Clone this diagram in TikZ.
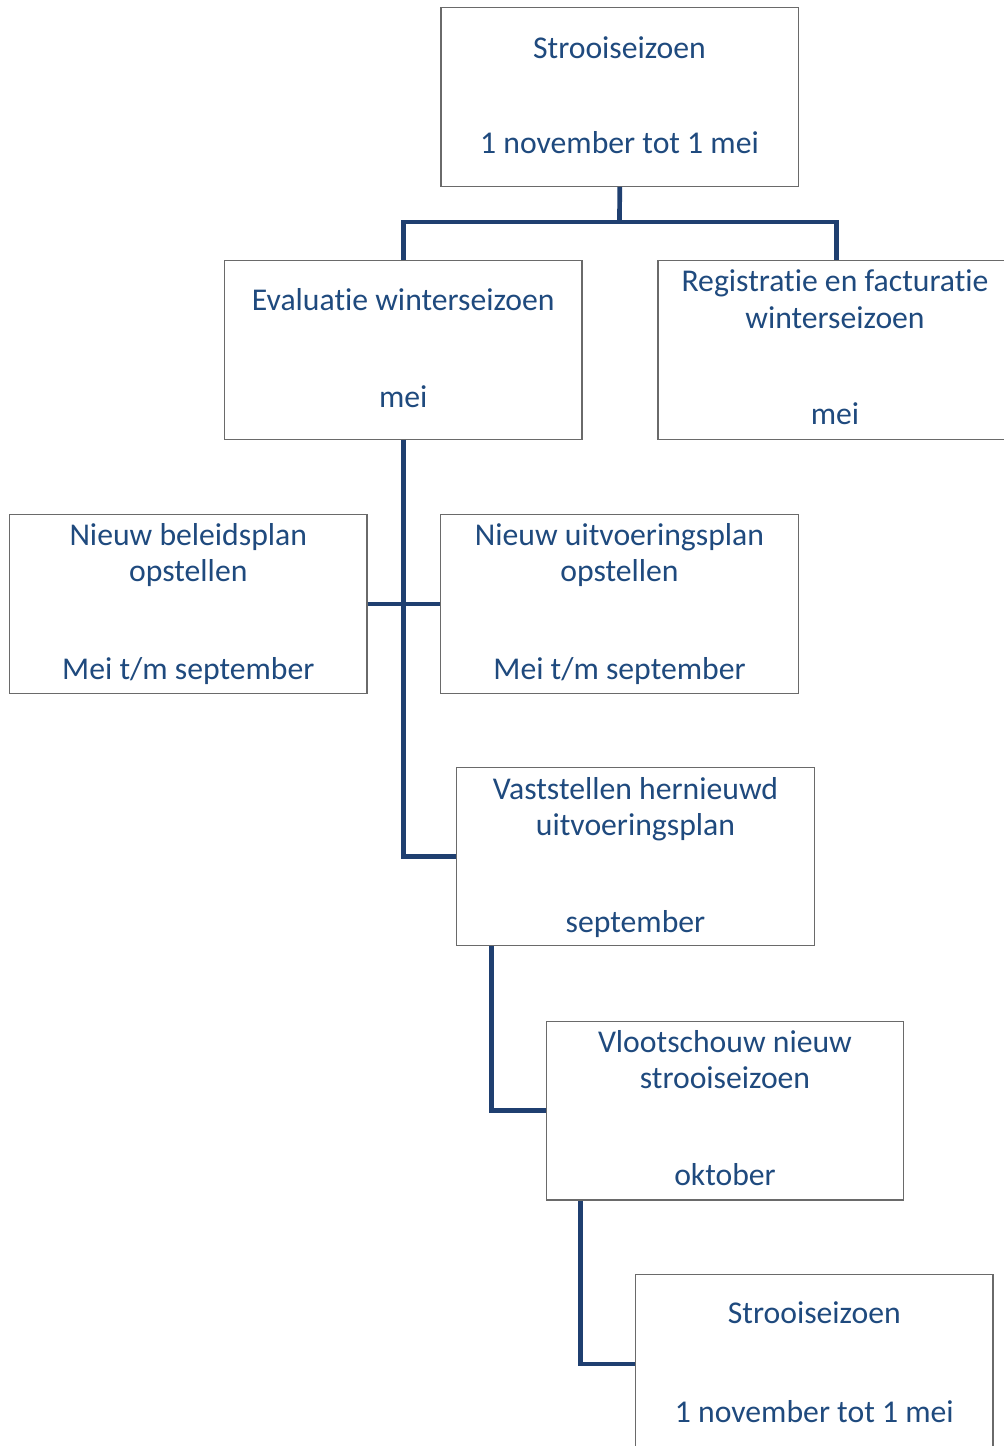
\documentclass[tikz,border=0pt]{standalone}
\usepackage{fontspec}
\setmainfont{Carlito}[Ligatures={NoCommon}]
\usetikzlibrary{calc}
\definecolor{conncol}{HTML}{1F3F70}
\definecolor{txtcol}{HTML}{1F4A7E}
\definecolor{boxcol}{HTML}{6A6A6A}
\begin{document}
\begin{tikzpicture}[x=1pt,y=1pt,
  box/.style={draw=boxcol,line width=1.2pt,fill=white,minimum width=357.5pt,minimum height=178.5pt,inner sep=0pt},
  txt/.style={anchor=base,inner sep=0pt,text=txtcol,font=\fontsize{31.7}{36}\selectfont},
  conn/.style={draw=conncol,line width=4.7pt}]
\useasboundingbox (0,0) rectangle (1004,-1446);
\fill[white] (0,0) rectangle (1004,-1446);
% boxes
\node[box] (b1) at (619.75,-97) {};
\node[box] (b2) at (403.3,-349.9) {};
\node[box] (b3) at (836.75,-349.9) {};
\node[box] (b4) at (188.3,-603.9) {};
\node[box] (b5) at (619.5,-603.9) {};
\node[box] (b6) at (635.5,-856.5) {};
\node[box] (b7) at (725,-1110.8) {};
\node[box] (b8) at (814.3,-1364) {};
% connectors
\coordinate (j1) at (619.5,-222);
\draw[conn] (b1.south) -- (j1);
\draw[conn] (b2.north) |- (j1) -| (b3.north);
\draw[conn] (b2.south) |- (b6.west);
\draw[conn] (b4.east) -- (b5.west);
\draw[conn] ($(b6.south west)+(35.5,0)$) |- (b7.west);
\draw[conn] ($(b7.south west)+(34.5,0)$) |- (b8.west);
% texts
\node[txt] (t1a) at (619.5,-58.3) {Strooiseizoen};
\node[txt] (t1b) at (619.5,-153) {1 november tot 1 mei};
\node[txt] (t2a) at (403.3,-310) {Evaluatie winterseizoen};
\node[txt] (t2b) at (403.3,-407.3) {mei};
\node[txt] (t3a) at (835,-291.7) {Registratie en facturatie};
\node[txt] (t3b) at (835,-328.3) {winterseizoen};
\node[txt] (t3c) at (835,-424) {mei};
\node[txt] (t4a) at (188.3,-545.7) {Nieuw beleidsplan};
\node[txt] (t4b) at (188.3,-581) {opstellen};
\node[txt] (t4c) at (188.3,-679) {Mei t/m september};
\node[txt] (t5a) at (619.5,-545.7) {Nieuw uitvoeringsplan};
\node[txt] (t5b) at (619.5,-581) {opstellen};
\node[txt] (t5c) at (619.5,-679) {Mei t/m september};
\node[txt] (t6a) at (635.5,-799.3) {Vaststellen hernieuwd};
\node[txt] (t6b) at (635.5,-835) {uitvoeringsplan};
\node[txt] (t6c) at (635.5,-932.7) {september};
\node[txt] (t7a) at (725,-1052.7) {Vlootschouw nieuw};
\node[txt] (t7b) at (725,-1088.3) {strooiseizoen};
\node[txt] (t7c) at (725,-1185.7) {oktober};
\node[txt] (t8a) at (814.3,-1323.3) {Strooiseizoen};
\node[txt] (t8b) at (814.3,-1422.3) {1 november tot 1 mei};
\end{tikzpicture}
\end{document}
